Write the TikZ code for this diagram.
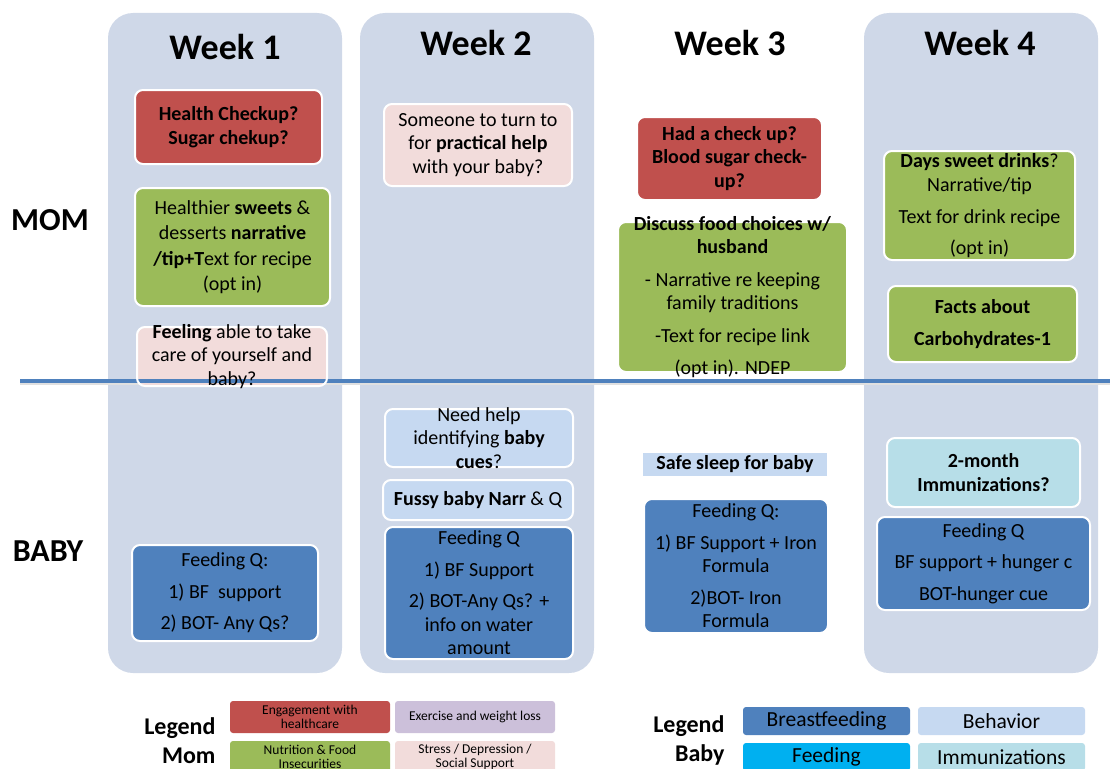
\documentclass[tikz,border=0pt]{standalone}
\usepackage{fontspec}
\setmainfont{Carlito}
\definecolor{colbg}{RGB}{207,216,232}
\definecolor{healthred}{RGB}{192,80,77}
\definecolor{nutrgreen}{RGB}{155,187,89}
\definecolor{stresspink}{RGB}{242,220,219}
\definecolor{exerpurple}{RGB}{204,192,218}
\definecolor{bfblue}{RGB}{79,129,189}
\definecolor{behblue}{RGB}{198,217,241}
\definecolor{feedcyan}{RGB}{0,176,240}
\definecolor{immteal}{RGB}{183,222,232}
\tikzset{
  card/.style={rounded corners=8pt, draw=white, line width=2pt, align=center,
    inner sep=0pt, font=\fontsize{20}{23.5}\selectfont},
  boldcard/.style={card, font=\bfseries\fontsize{20}{23.5}\selectfont},
  legcard/.style={rounded corners=3pt, align=center, inner sep=0pt,
    minimum width=160pt, minimum height=32pt, font=\fontsize{13.5}{13.5}\selectfont},
  babylegcard/.style={legcard, minimum width=167pt, minimum height=28pt,
    font=\fontsize{21.5}{22}\selectfont},
  heading/.style={font=\bfseries\fontsize{32}{36}\selectfont},
  legtitle/.style={anchor=east, align=right, font=\bfseries\fontsize{24}{29}\selectfont},
  divider/.style={draw=bfblue, line width=4pt},
  crossdiv/.style={path picture={\draw[divider] (divL) -- (divR);}}
}
\begin{document}
\begin{tikzpicture}[x=1pt,y=-1pt]
  \useasboundingbox (0,0) rectangle (1110,768);
  \clip (0,0) rectangle (1110,768);

  \foreach \x in {108,360,864}
    \fill[colbg, rounded corners=25pt] (\x,13) rectangle ++(234,660);
  \foreach \i/\x/\y in {1/225/47,2/476/43,3/730/43,4/980/43}
    \node[font=\bfseries\fontsize{36}{40}\selectfont] (week\i) at (\x,\y) {Week \i};
  \node[heading] (mom) at (50,220) {MOM};
  \node[heading] (baby) at (48,551) {BABY};

  \coordinate (divL) at (20,381);
  \coordinate (divR) at (1110,381);
  \draw[black!12, line width=3pt] ([yshift=-2.5pt]divL) -- ([yshift=-2.5pt]divR);
  \draw[divider] (divL) -- (divR);

  \node[boldcard, fill=healthred, minimum width=187pt, minimum height=74pt] (w1health) at (228.5,127)
    {Health Checkup?\\Sugar chekup?};
  \node[card, fill=nutrgreen, minimum width=195pt, minimum height=118pt] (w1sweets) at (232.5,247)
    {Healthier \textbf{sweets} \&\\[2pt]desserts \textbf{narrative}\\[2pt]\textbf{/tip+T}ext for recipe\\[2pt](opt in)};
  \node[card, crossdiv, fill=stresspink, minimum width=190pt, minimum height=59pt, inner ysep=-4pt] (w1feel) at (232,356.5)
    {\textbf{Feeling} able to take\\care of yourself and\\baby?};
  \node[card, fill=bfblue, minimum width=186pt, minimum height=96pt] (w1feed) at (225,593)
    {Feeding Q:\\[8pt]1) BF\ \ support\\[8pt]2) BOT- Any Qs?};

  \node[card, fill=stresspink, minimum width=188pt, minimum height=82pt] (w2help) at (478,145)
    {Someone to turn to\\for \textbf{practical help}\\with your baby?};
  \node[card, fill=behblue, minimum width=188pt, minimum height=58pt, inner ysep=-4pt] (w2cues) at (479,438)
    {Need help\\identifying \textbf{baby}\\\textbf{cues}?};
  \node[card, fill=behblue, minimum width=190pt, minimum height=40pt] (w2fussy) at (478,500)
    {\textbf{Fussy baby Narr} \& Q};
  \node[card, fill=bfblue, minimum width=188pt, minimum height=132pt] (w2feed) at (479,593)
    {Feeding Q\\[8pt]1) BF Support\\[8pt]2) BOT-Any Qs? +\\info on water\\amount};

  \node[boldcard, fill=healthred, minimum width=185pt, minimum height=83pt] (w3check) at (729.5,158.5)
    {Had a check up?\\Blood sugar check-\\up?};
  \node[card, crossdiv, fill=nutrgreen, minimum width=229pt, minimum height=150pt, inner ysep=-6pt] (w3food) at (732.5,297)
    {\textbf{Discuss food choices w/}\\\textbf{husband}\\[9pt]- Narrative re keeping\\family traditions\\[9pt]-Text for recipe link\\[9pt](opt in). NDEP};
  \node[boldcard, rounded corners=0pt, draw=none, fill=behblue, minimum width=184pt, minimum height=23pt] (w3sleep) at (735,464.5)
    {Safe sleep for baby};
  \node[card, fill=bfblue, minimum width=184pt, minimum height=134pt] (w3feed) at (736,566)
    {Feeding Q:\\[8pt]1) BF Support + Iron\\Formula\\[8pt]2)BOT- Iron\\Formula};

  \node[card, fill=nutrgreen, minimum width=191pt, minimum height=109pt] (w4drinks) at (979.5,205.5)
    {\textbf{Days sweet drinks}?\\Narrative/tip\\[9pt]Text for drink recipe\\[7pt](opt in)};
  \node[boldcard, fill=nutrgreen, minimum width=189pt, minimum height=76pt] (w4carbs) at (982.5,324)
    {Facts about\\[8pt]Carbohydrates-1};
  \node[boldcard, fill=immteal, minimum width=193pt, minimum height=69pt] (w4immun) at (983.5,472.5)
    {2-month\\Immunizations?};
  \node[card, fill=bfblue, minimum width=213pt, minimum height=93pt] (w4feed) at (983.5,563.5)
    {Feeding Q\\[8pt]BF support + hunger c\\[8pt]BOT-hunger cue};

  \node[legtitle] (legmom) at (219,741) {Legend\\Mom};
  \node[legcard, fill=healthred] (legeng) at (310,717) {Engagement with\\healthcare};
  \node[legcard, fill=exerpurple] (legexer) at (475,717) {Exercise and weight loss};
  \node[legcard, fill=nutrgreen] (legnutr) at (310,757) {Nutrition \& Food\\Insecurities};
  \node[legcard, fill=stresspink] (legstress) at (475,757) {Stress / Depression /\\Social Support};

  \node[legtitle] (legbaby) at (728,740) {Legend\\Baby};
  \node[babylegcard, fill=bfblue] (legbf) at (826.5,721) {Breastfeeding};
  \node[babylegcard, fill=behblue] (legbeh) at (1001.5,721) {Behavior};
  \node[babylegcard, fill=feedcyan] (legfeed) at (826.5,757) {Feeding};
  \node[babylegcard, fill=immteal] (legimm) at (1001.5,757) {Immunizations};
\end{tikzpicture}
\end{document}
